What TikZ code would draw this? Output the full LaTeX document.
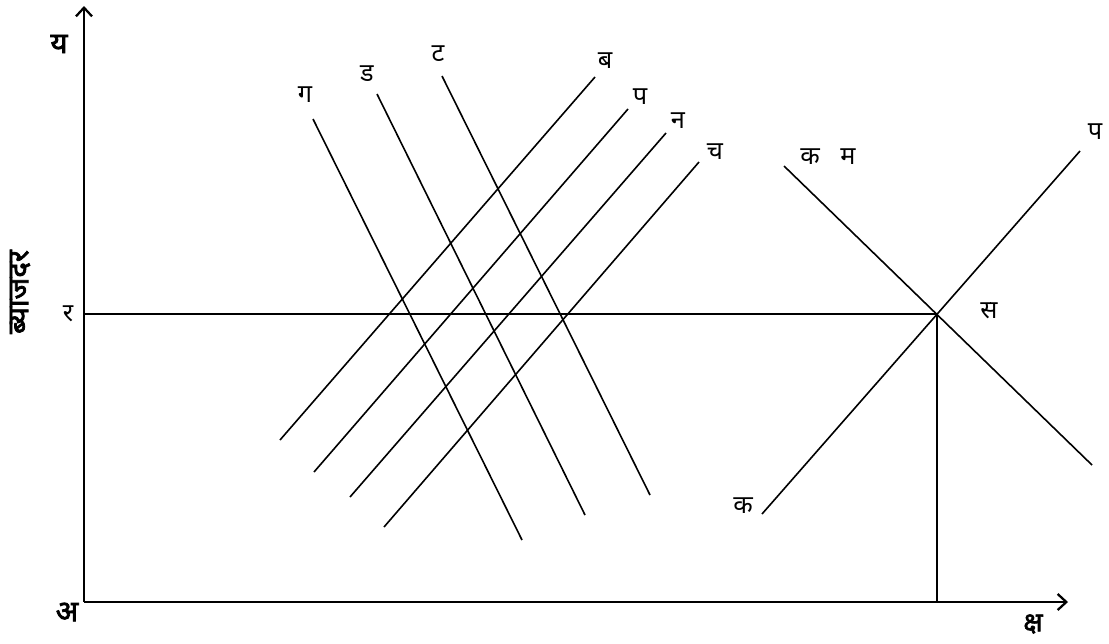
\documentclass[tikz,border=0pt]{standalone}
\usepackage{fontspec}
\newfontfamily\dev[Script=Devanagari]{Noto Sans}
\newfontfamily\devb[Script=Devanagari,FakeBold=2.5]{Noto Sans}
\usetikzlibrary{arrows.meta}
\tikzset{
  axis/.style={line width=1.7pt, -{Straight Barb[length=6.5pt,width=12pt,line width=1.7pt]}},
  curve/.style={line width=1.2pt},
  guide/.style={line width=1.2pt},
  lab/.style={font=\dev\fontsize{19}{22}\selectfont, inner sep=0pt},
  axlab/.style={font=\devb\fontsize{22}{25}\selectfont, inner sep=0pt},
}
\begin{document}
\begin{tikzpicture}[x=0.75pt,y=-0.75pt]
\useasboundingbox (0,0) rectangle (1109,643);
% origin and axes
\coordinate (O) at (84,602);
\coordinate (Ytop) at (84,6);
\coordinate (Xend) at (1068,602);
\draw[axis] (O) -- (Ytop);
\draw[axis] (O) -- (Xend);
\node[axlab] (ya) at (59,44) {य};
\node[axlab, font=\devb\fontsize{20}{23}\selectfont] (xa) at (1033,624) {क्ष};
\node[axlab] (oa) at (67,612) {अ};
\node[axlab, rotate=90] (vy) at (20,292) {ब्याजदर};
% rate line
\coordinate (Ra) at (84,314);
\coordinate (S) at (937,314);
\coordinate (Sx) at (937,602);
\draw[guide] (Ra) -- (S);
\draw[guide] (S) -- (Sx);
\node[lab] (rl) at (68,314) {र};
\node[lab] (sl) at (989,311) {स};
% right supply/demand
\coordinate (k1) at (762,514);
\coordinate (p1) at (1080,151);
\coordinate (km1) at (784,166);
\coordinate (km2) at (1092,465);
\draw[curve] (k1) -- (p1);
\draw[curve] (km1) -- (km2);
\node[lab] (kl) at (743,506) {क};
\node[lab] (pl) at (1095,132) {प};
\node[lab] (kml) at (810,157) {क};
\node[lab] (ml) at (848,157) {म};
% left descending lines
\coordinate (g1) at (313,119);
\coordinate (g2) at (522,540);
\coordinate (d1) at (377,94);
\coordinate (d2) at (585,515);
\coordinate (t1) at (442,76);
\coordinate (t2) at (650,495);
\draw[curve] (g1) -- (g2);
\draw[curve] (d1) -- (d2);
\draw[curve] (t1) -- (t2);
\node[lab] (gl) at (305,95) {ग};
\node[lab] (dl) at (367,74) {ड};
\node[lab] (tl) at (438,54) {ट};
% left ascending lines
\coordinate (b1) at (280,440);
\coordinate (b2) at (595,77);
\coordinate (pp1) at (314,472);
\coordinate (pp2) at (628,109);
\coordinate (n1) at (350,497);
\coordinate (n2) at (666,133);
\coordinate (c1) at (384,527);
\coordinate (c2) at (699,162);
\draw[curve] (b1) -- (b2);
\draw[curve] (pp1) -- (pp2);
\draw[curve] (n1) -- (n2);
\draw[curve] (c1) -- (c2);
\node[lab] (bl) at (605,61) {ब};
\node[lab] (ppl) at (640,97) {प};
\node[lab] (nl) at (678,121) {न};
\node[lab] (cl) at (715,152) {च};
\end{tikzpicture}
\end{document}
